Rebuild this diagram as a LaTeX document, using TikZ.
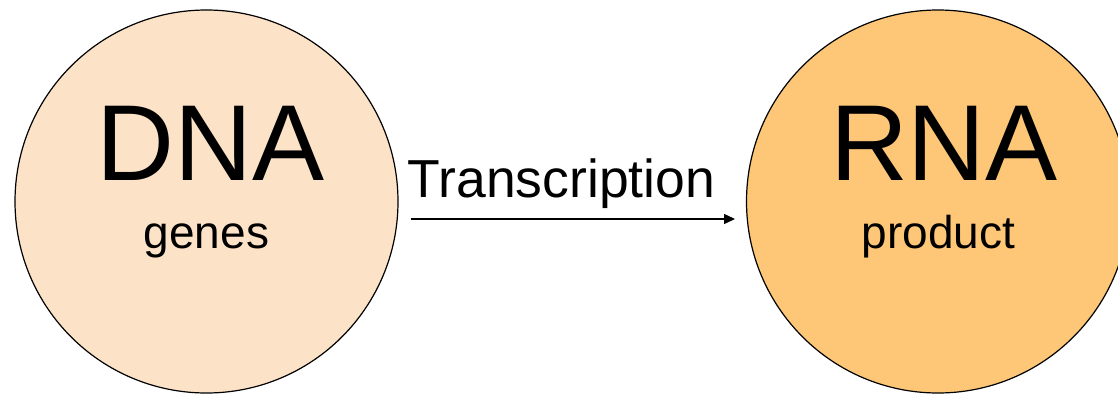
\documentclass[tikz,border=0pt]{standalone}
\usepackage{fontspec}
\setmainfont{Liberation Sans}
\usetikzlibrary{arrows.meta}
\definecolor{dnafill}{HTML}{FCE3C8}
\definecolor{rnafill}{HTML}{FEC677}
\tikzset{
  blob/.style={circle, draw=black, line width=1.2pt, minimum size=383pt, inner sep=0pt},
  bigword/.style={anchor=base, font=\fontsize{108}{108}\selectfont, inner sep=0pt},
  smallword/.style={anchor=base, font=\fontsize{46}{46}\selectfont, inner sep=0pt},
  flow/.style={line width=1.4pt, -{Triangle[length=11pt,width=10pt]}}
}
\begin{document}
\begin{tikzpicture}[x=1pt,y=-1pt]
  \useasboundingbox (0,0) rectangle (1118,394);
  \clip (0,0) rectangle (1118,394);
  % molecules
  \node[blob, fill=dnafill] (dna) at (206.5,201.5) {};
  \node[blob, fill=rnafill] (rna) at (938,201.5) {};
  % labels inside the circles
  \node[bigword] (dnaname) at (211,180) {DNA};
  \node[smallword] (dnasub) at (206.5,248) {genes};
  \node[bigword] (rnaname) at (944,180) {RNA};
  \node[smallword] (rnasub) at (938.5,248) {product};
  % transcription step
  \node[anchor=base, font=\fontsize{53.5}{53.5}\selectfont, inner sep=0pt] (step) at (561.5,197) {Transcription};
  \coordinate (from) at (410.5,219);
  \coordinate (to) at (735,219);
  \draw[flow] (from) -- (to);
\end{tikzpicture}
\end{document}
